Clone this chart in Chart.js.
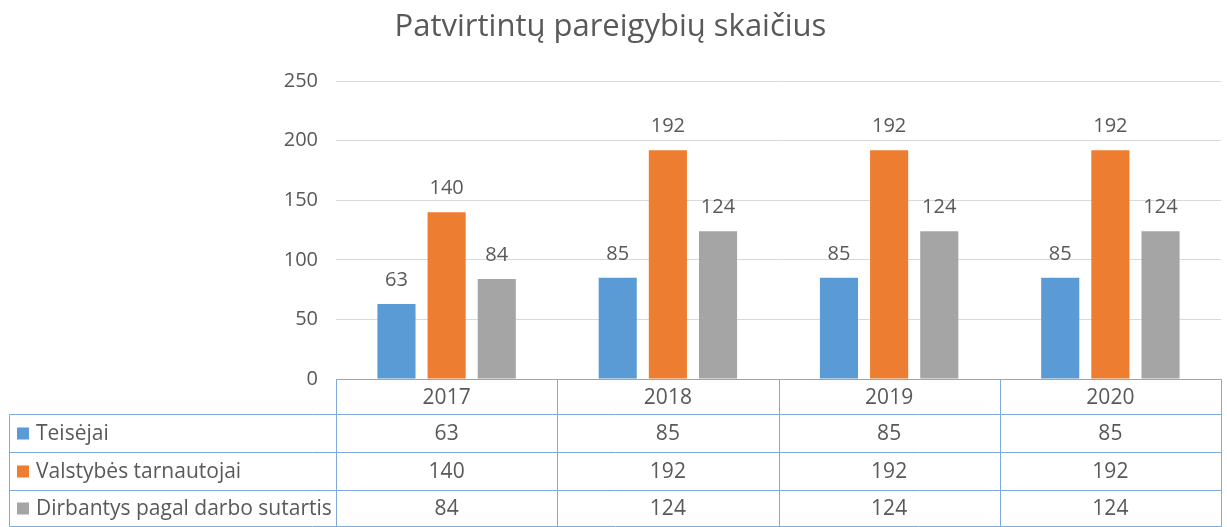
<!DOCTYPE html>
<html>
<head>
<meta charset="utf-8">
<script src="https://cdn.jsdelivr.net/npm/chart.js@4"></script>
<style>
    html, body { margin: 0; padding: 0; background: #fff; }
    #wrap { width: 1227px; height: 527px; }
</style>
</head>
<body>
<div id="wrap"><canvas id="chart"></canvas></div>
<script>
// Chart data
const years = ['2017', '2018', '2019', '2020'];
const seriesNames = ['Teisėjai', 'Valstybės tarnautojai', 'Dirbantys pagal darbo sutartis'];
const teisejai = [63, 85, 85, 85];
const tarnautojai = [140, 192, 192, 192];
const dirbantys = [84, 124, 124, 124];
const yTicks = [0, 50, 100, 150, 200, 250];

const colors = ['#5b9bd5', '#ed7d31', '#a5a5a5'];
const textColor = '#595959';
const fontFamily = '"Open Sans", Lato, sans-serif';
const tableLine = '#7faadc';

// Numbers above each bar
const valueLabels = {
    id: 'valueLabels',
    afterDatasetsDraw(chart) {
        const ctx = chart.ctx;
        ctx.save();
        ctx.font = '20px ' + fontFamily;
        ctx.fillStyle = textColor;
        ctx.textAlign = 'center';
        ctx.textBaseline = 'alphabetic';
        chart.data.datasets.forEach((ds, i) => {
            chart.getDatasetMeta(i).data.forEach((bar, j) => {
                ctx.fillText(String(ds.data[j]), bar.x, bar.y - 18);
            });
        });
        ctx.restore();
    }
};

// Data table under the plot (Excel style)
const dataTable = {
    id: 'dataTable',
    afterDraw(chart) {
        const ctx = chart.ctx;
        const area = chart.chartArea;
        const xs = chart.scales.x;
        const colW = (area.right - area.left) / years.length;
        const left = 9.5;
        const rows = [area.bottom + 0.5, 414.5, 452.5, 490.5, 526.5];

        ctx.save();
        ctx.strokeStyle = tableLine;
        ctx.lineWidth = 1;
        ctx.beginPath();
        // header top line only over the value columns
        ctx.moveTo(Math.round(area.left) + 0.5, rows[0]);
        ctx.lineTo(Math.round(area.right) + 0.5, rows[0]);
        for (let r = 1; r < rows.length; r++) {
            ctx.moveTo(left, rows[r]);
            ctx.lineTo(Math.round(area.right) + 0.5, rows[r]);
        }
        ctx.moveTo(left, rows[1]);
        ctx.lineTo(left, rows[4]);
        for (let c = 0; c <= years.length; c++) {
            const x = Math.round(area.left + c * colW) + 0.5;
            ctx.moveTo(x, rows[0]);
            ctx.lineTo(x, rows[4]);
        }
        ctx.stroke();

        ctx.font = '21px ' + fontFamily;
        ctx.fillStyle = textColor;
        ctx.textBaseline = 'middle';
        ctx.textAlign = 'center';
        years.forEach((y, i) => {
            ctx.fillText(y, xs.getPixelForValue(i), (rows[0] + rows[1]) / 2 + 1);
        });
        chart.data.datasets.forEach((ds, r) => {
            const cy = (rows[r + 1] + rows[r + 2]) / 2 + 1;
            ctx.textAlign = 'center';
            ds.data.forEach((v, i) => {
                ctx.fillText(String(v), xs.getPixelForValue(i), cy);
            });
            ctx.fillStyle = colors[r];
            ctx.fillRect(17, cy - 7, 12, 12);
            ctx.fillStyle = textColor;
            ctx.textAlign = 'left';
            ctx.fillText(seriesNames[r], 36, cy);
        });
        ctx.restore();
    }
};

const ctx = document.getElementById('chart').getContext('2d');
new Chart(ctx, {
    type: 'bar',
    data: {
        labels: years,
        datasets: [
            { label: seriesNames[0], data: teisejai, backgroundColor: colors[0] },
            { label: seriesNames[1], data: tarnautojai, backgroundColor: colors[1] },
            { label: seriesNames[2], data: dirbantys, backgroundColor: colors[2] }
        ]
    },
    options: {
        responsive: true,
        maintainAspectRatio: false,
        animation: false,
        categoryPercentage: 0.68,
        barPercentage: 0.76,
        layout: {
            padding: { left: 0, right: 6, top: 0, bottom: 148 }
        },
        plugins: {
            legend: { display: false },
            tooltip: { enabled: false },
            title: {
                display: true,
                text: 'Patvirtintų pareigybių skaičius',
                color: textColor,
                font: { family: fontFamily, size: 31, weight: 'normal' },
                padding: { top: 9, bottom: 35 }
            }
        },
        scales: {
            x: {
                display: false
            },
            y: {
                min: 0,
                max: 250,
                afterBuildTicks(scale) {
                    scale.ticks = yTicks.map(v => ({ value: v }));
                },
                afterFit(scale) {
                    scale.width = 336;
                },
                border: { display: false },
                grid: { color: '#d9d9d9', drawTicks: false },
                ticks: {
                    padding: 18,
                    color: textColor,
                    font: { family: fontFamily, size: 20 }
                }
            }
        }
    },
    plugins: [valueLabels, dataTable]
});
</script>
</body>
</html>
